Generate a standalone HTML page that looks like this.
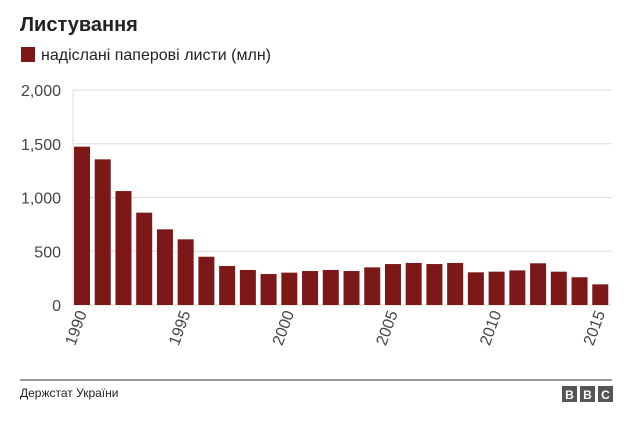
<!DOCTYPE html>
<html><head><meta charset="utf-8"><style>
body{margin:0;background:#fff;font-family:"Liberation Sans",Arial,sans-serif;}
#wrap{position:relative;width:643px;height:429px;overflow:hidden;}
</style></head><body>
<div id="wrap">
<svg id="svg" width="643" height="429">
<text x="20" y="31" font-size="20" font-weight="bold" fill="#222">Листування</text>
<rect x="21" y="47" width="14" height="15" fill="#7d1818"/>
<text x="41" y="60" font-size="16" fill="#222" textLength="230">надіслані паперові листи (млн)</text>
<g id="grid"></g><g id="bars"></g><g id="xlabels"></g>
<line x1="20" y1="380" x2="612" y2="380" stroke="#333" stroke-width="1"/>
<text x="20" y="397" font-size="12" fill="#222">Держстат України</text>
<g>
<rect x="562" y="386" width="15" height="16" fill="#555"/><text x="569.5" y="399" font-size="12" font-weight="bold" fill="#fff" text-anchor="middle">B</text>
<rect x="580" y="386" width="15" height="16" fill="#555"/><text x="587.5" y="399" font-size="12" font-weight="bold" fill="#fff" text-anchor="middle">B</text>
<rect x="598" y="386" width="15" height="16" fill="#555"/><text x="605.5" y="399" font-size="12" font-weight="bold" fill="#fff" text-anchor="middle">C</text>
</g>
</svg></div>
<script>
const years=[1990,1991,1992,1993,1994,1995,1996,1997,1998,1999,2000,2001,2002,2003,2004,2005,2006,2007,2008,2009,2010,2011,2012,2013,2014,2015];
const values=[1473,1355,1060,859,704,611,449,363,326,288,301,316,326,316,350,381,391,381,391,304,310,322,388,310,258,192];
const yTicks=[0,500,1000,1500,2000];
const yTickLabels=["0","500","1,000","1,500","2,000"];
const xLabelYears=[1990,1995,2000,2005,2010,2015];
const NS="http://www.w3.org/2000/svg";
const y0=305,yTop=90,yMax=2000,xL=73,xR=612;
function yS(v){return y0-(v/yMax)*(y0-yTop);}
const pitch=(xR-xL)/years.length,bw=16;
function xS(i){return xL+1+i*pitch;}
function mk(t,a,p){const e=document.createElementNS(NS,t);for(const k in a)e.setAttribute(k,a[k]);p.appendChild(e);return e;}
const grid=document.getElementById('grid');
yTicks.forEach((v,i)=>{
 const l=mk('line',{x1:xL,x2:xR,y1:yS(v),y2:yS(v),stroke:'#ddd','stroke-width':1},grid);
 
 
 const t=mk('text',{x:61,y:yS(v)+6,'font-size':16,fill:'#444','text-anchor':'end'},grid);
 t.textContent=yTickLabels[i];
 
 
});
const ax=mk('line',{x1:xL,x2:xL,y1:yTop,y2:y0,stroke:'#ddd'},grid);


const bars=document.getElementById('bars');
years.forEach((yr,i)=>{
 const r=mk('rect',{x:xS(i),y:yS(values[i]),width:bw,height:y0-yS(values[i]),fill:'#7d1818'},bars);
 
 
});
const xl=document.getElementById('xlabels');
xLabelYears.forEach(yr=>{
 const i=years.indexOf(yr);const cx=xS(i)+bw/2+5;
 const t=mk('text',{x:cx,y:313,'font-size':16,fill:'#444','text-anchor':'end',transform:'rotate(-70 '+cx+' 313)'},xl);
 t.textContent=yr;
 
 
});
</script>
</body></html>
